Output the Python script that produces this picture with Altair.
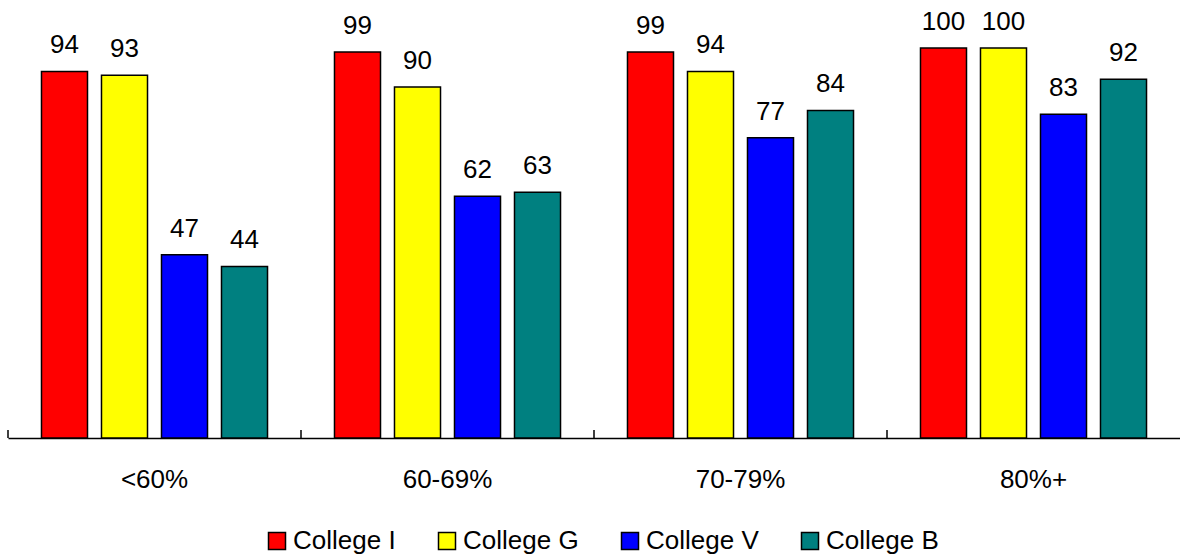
import altair as alt
import pandas as pd

# Categories and series
groups = ["<60%", "60-69%", "70-79%", "80%+"]
colleges = ["College I", "College G", "College V", "College B"]
colors = ["#FF0000", "#FFFF00", "#0000FF", "#008080"]
college_i = [94, 99, 99, 100]
college_g = [93, 90, 94, 100]
college_v = [47, 62, 77, 83]
college_b = [44, 63, 84, 92]

rows = []
for name, vals in zip(colleges, [college_i, college_g, college_v, college_b]):
    for g, v in zip(groups, vals):
        rows.append({"group": g, "college": name, "value": v})
df = pd.DataFrame(rows)

FONT = "Liberation Sans"
FS = 26
W, H = 1172, 390

x = alt.X(
    "group:N",
    sort=groups,
    scale=alt.Scale(paddingInner=0, paddingOuter=0),
    axis=alt.Axis(
        title=None, labelAngle=0, ticks=False, tickSize=0, labelPadding=28,
        labelFontSize=FS, labelFont=FONT, labelColor="black",
        domainColor="black", domainWidth=1.5,
    ),
)
xo = alt.XOffset("college:N", sort=colleges,
                 scale=alt.Scale(paddingInner=0.233, paddingOuter=0.558))
y = alt.Y("value:Q", scale=alt.Scale(domain=[0, 100]), axis=None)

bars = alt.Chart(df).mark_bar(stroke="black", strokeWidth=1.5).encode(
    x=x,
    xOffset=xo,
    y=y,
    color=alt.Color(
        "college:N",
        sort=colleges,
        scale=alt.Scale(domain=colleges, range=colors),
        legend=alt.Legend(
            title=None, orient="none", direction="horizontal",
            legendX=256, legendY=480,
            labelFontSize=FS, labelFont=FONT, labelColor="black",
            symbolType="square", symbolSize=289,
            symbolStrokeColor="black", symbolStrokeWidth=1.5,
            symbolOpacity=1, labelOffset=3, columnPadding=38, padding=0,
        ),
    ),
)

labels = alt.Chart(df).mark_text(
    dy=-18, baseline="alphabetic", fontSize=FS, font=FONT, color="black"
).encode(x=x, xOffset=xo, y=y, text="value:Q")

# Small upward ticks on the category boundaries
ticks = alt.Chart(pd.DataFrame({"group": groups})).mark_rule(
    color="black", strokeWidth=1.5
).encode(
    x=alt.X("group:N", sort=groups, bandPosition=0),
    y=alt.value(H),
    y2=alt.value(H - 8),
)

chart = (
    alt.layer(bars, labels, ticks)
    .properties(
        width=W, height=H,
        autosize=alt.AutoSizeParams(type="none"),
        padding={"left": 8, "top": 48, "right": 0, "bottom": 116},
        background="white",
    )
    .configure_view(stroke=None)
)

chart.save("out.html", embed_options={"renderer": "svg", "actions": False})
